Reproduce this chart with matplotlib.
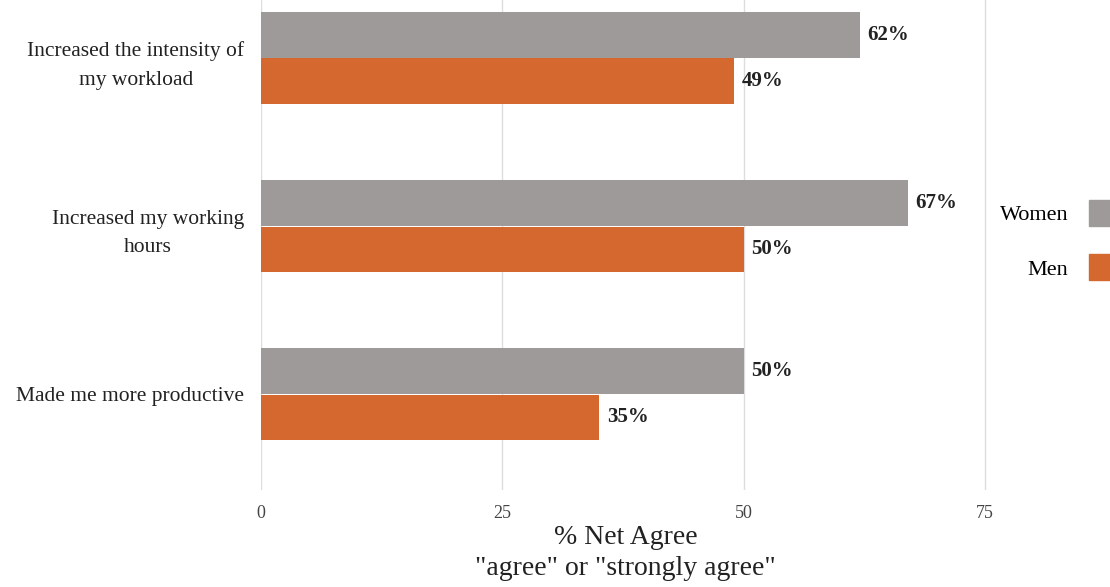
import numpy as np
import matplotlib
matplotlib.use("Agg")
import matplotlib.pyplot as plt
from matplotlib.patches import Patch

# data
categories = ["Increased the intensity of\nmy workload",
              "Increased my working\nhours",
              "Made me more productive"]
women = [62, 67, 50]
men = [49, 50, 35]
x_ticks = [0, 25, 50, 75]

grey = "#9e9a99"
orange = "#d4682f"

plt.rcParams["font.family"] = ["Liberation Serif", "DejaVu Serif"]

fig = plt.figure(figsize=(11.1, 5.87), dpi=100)
ax = fig.add_axes([261 / 1110, 97 / 587, 729 / 1110, 490 / 587])

y = np.arange(len(categories))
h = 0.275
bw = ax.barh(y - h / 2, women, height=h * 0.98, color=grey, zorder=3)
bm = ax.barh(y + h / 2, men, height=h * 0.98, color=orange, zorder=3)

for bars in (bw, bm):
    for b in bars:
        ax.text(b.get_width() + 0.8, b.get_y() + b.get_height() / 2,
                f"{b.get_width():.0f}%", va="center", ha="left",
                fontsize=15, fontweight="bold", color="#222222")

ax.set_xlim(0, 75.5)
ax.set_ylim(2.57, -0.345)
ax.set_xticks(x_ticks)
ax.set_xticklabels([str(t) for t in x_ticks], fontsize=13, color="#444444")
ax.set_yticks(y)
ax.set_yticklabels(categories, fontsize=15.5, color="#222222")
for lbl in ax.get_yticklabels():
    lbl.set_multialignment("center")
    lbl.set_linespacing(1.7)
ax.tick_params(axis="both", length=0)
ax.tick_params(axis="x", pad=11)
ax.tick_params(axis="y", pad=12)
ax.grid(axis="x", color="#dddddd", linewidth=1, zorder=0)
for s in ax.spines.values():
    s.set_visible(False)

ax.set_xlabel('% Net Agree\n"agree" or "strongly agree"', fontsize=20,
              color="#222222", labelpad=2, linespacing=1.3)

handles = [Patch(color=grey), Patch(color=orange)]
fig.legend(handles, ["Women", "Men"], loc="center left",
           bbox_to_anchor=(980 / 1110, 1 - 240 / 587), frameon=False,
           markerfirst=False, fontsize=16, handlelength=1.3,
           handleheight=1.4, labelspacing=1.3, handletextpad=0.9)

fig.savefig("out.png", dpi=100)
